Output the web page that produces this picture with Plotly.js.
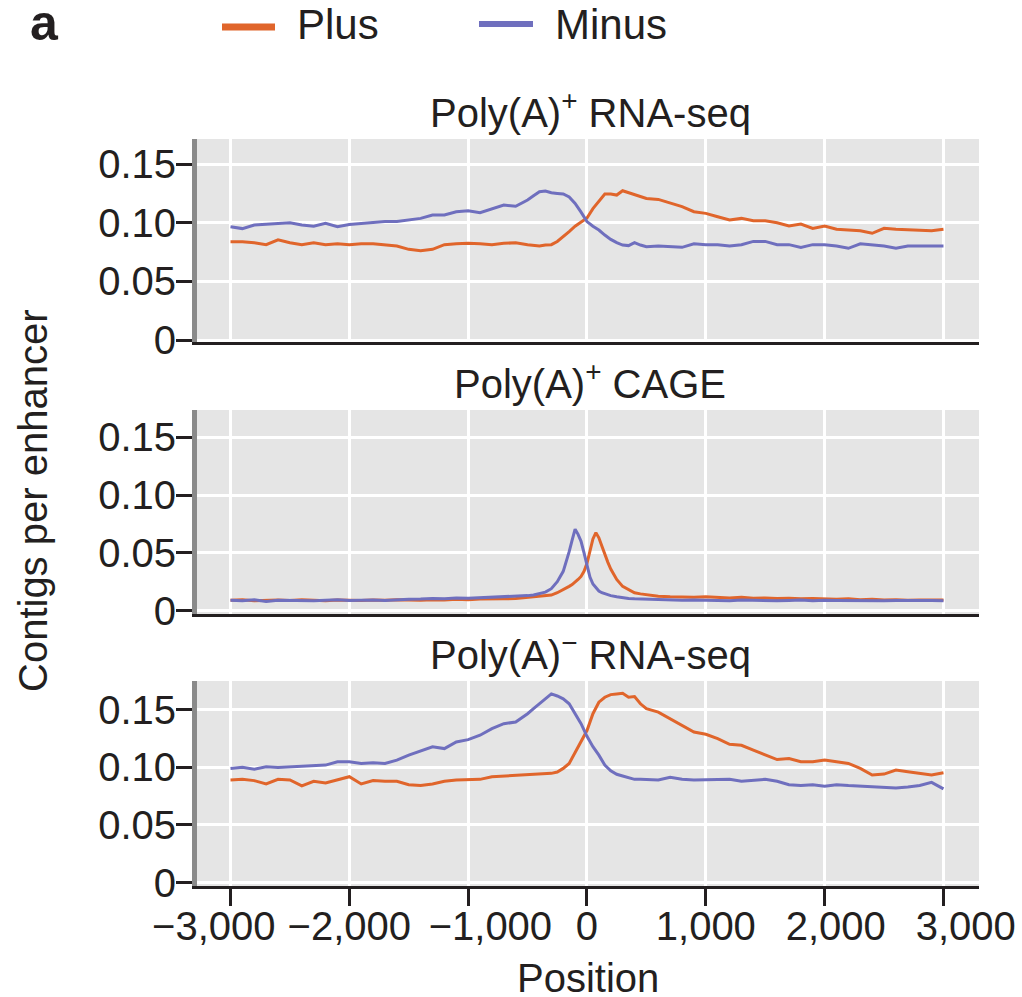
<!DOCTYPE html>
<html>
<head>
<meta charset="utf-8">
<script src="https://cdn.plot.ly/plotly-3.0.1.min.js"></script>
<style>html,body{margin:0;padding:0;background:#fff;}#chart{width:1022px;height:997px;}</style>
</head>
<body>
<div id="chart"></div>
<script>
// ---------- data ----------
const seriesNames = ['Plus', 'Minus'];
const panelTitles = ['Poly(A)<sup>+</sup> RNA-seq', 'Poly(A)<sup>+</sup> CAGE', 'Poly(A)<sup>\u2212</sup> RNA-seq'];
const xTickVals = [-3000, -2000, -1000, 0, 1000, 2000, 3000];
const xTickText = ['\u22123,000', '\u22122,000', '\u22121,000', '0', '1,000', '2,000', '3,000'];
const yTickVals = [0, 0.05, 0.10, 0.15];
const yTickText = ['0', '0.05', '0.10', '0.15'];

// positions for RNA-seq panels
const posRNA = [-3000,-2900,-2800,-2700,-2600,-2500,-2400,-2300,-2200,-2100,-2000,-1900,-1800,-1700,-1600,-1500,-1400,-1300,-1200,-1100,-1000,-900,-800,-700,-600,
  -500,-450,-400,-350,-300,-250,-200,-150,-100,-50,0,50,100,150,200,250,300,350,400,450,500,
  600,700,800,900,1000,1100,1200,1300,1400,1500,1600,1700,1800,1900,2000,2100,2200,2300,2400,2500,2600,2700,2800,2900,3000];

// Poly(A)+ RNA-seq
const polyAplusRNA_plus = [0.0838,0.0838,0.083,0.0813,0.0855,0.083,0.0813,0.083,0.0813,0.082,0.0813,0.082,0.082,0.0813,0.0801,0.0773,0.0761,0.0773,0.0813,0.082,0.0824,0.082,0.0813,0.0824,0.083,
  0.0813,0.081,0.0801,0.081,0.0813,0.084,0.088,0.0925,0.097,0.1005,0.104,0.112,0.118,0.1245,0.1245,0.1236,0.1273,0.1256,0.1236,0.122,0.1207,
  0.1199,0.1165,0.1137,0.1094,0.108,0.1051,0.1023,0.1037,0.1017,0.1017,0.1,0.0972,0.0989,0.0952,0.0972,0.0944,0.0938,0.0932,0.091,0.0952,0.0944,0.0938,0.0938,0.0932,0.0944];
const polyAplusRNA_minus = [0.0966,0.095,0.098,0.0985,0.0995,0.1,0.098,0.097,0.0995,0.0966,0.0985,0.0995,0.1004,0.101,0.101,0.1023,0.1037,0.1066,0.1066,0.1094,0.1102,0.1085,0.112,0.1151,0.114,
  0.1194,0.123,0.1265,0.127,0.1256,0.125,0.1245,0.122,0.1165,0.109,0.101,0.097,0.0938,0.0895,0.0858,0.083,0.081,0.0805,0.083,0.081,0.0796,
  0.0801,0.0796,0.079,0.082,0.0813,0.0813,0.0801,0.0813,0.0841,0.0841,0.0813,0.0813,0.079,0.0813,0.0813,0.0801,0.0782,0.082,0.0813,0.0801,0.0782,0.0801,0.0801,0.0801,0.0801];

// Poly(A)- RNA-seq
const polyAminusRNA_plus = [0.0891,0.0896,0.0885,0.0856,0.0896,0.0891,0.0839,0.0879,0.0865,0.0891,0.0919,0.0856,0.0885,0.0879,0.0879,0.085,0.0842,0.0856,0.0879,0.0891,0.0891,0.0896,0.0919,0.0925,0.0934,
  0.0934,0.094,0.0942,0.0945,0.0948,0.096,0.0991,0.1034,0.1134,0.123,0.132,0.1466,0.1566,0.1609,0.1632,0.1638,0.1644,0.1609,0.1615,0.1552,0.1509,
  0.148,0.1422,0.1365,0.1307,0.1287,0.1249,0.12,0.1192,0.1149,0.1106,0.1068,0.1077,0.1049,0.1049,0.1063,0.1049,0.1034,0.0991,0.0934,0.0942,0.0977,0.0963,0.0948,0.0934,0.0954];
const polyAminusRNA_minus = [0.0991,0.1,0.0983,0.1006,0.1,0.1006,0.1012,0.1012,0.102,0.1049,0.1049,0.1034,0.104,0.1034,0.1063,0.1106,0.1143,0.1178,0.1163,0.1221,0.1241,0.1279,0.1336,0.1379,0.1394,
  0.1466,0.151,0.1552,0.16,0.1638,0.162,0.1595,0.1552,0.1466,0.138,0.127,0.118,0.1106,0.102,0.0971,0.094,0.0925,0.091,0.0896,0.0896,0.0896,
  0.0891,0.0914,0.0896,0.0891,0.0891,0.0896,0.0896,0.0879,0.0885,0.0896,0.0879,0.085,0.0842,0.085,0.0836,0.085,0.0842,0.0836,0.083,0.083,0.0822,0.083,0.0842,0.087,0.0813];

// positions for CAGE panel
const posCAGE = [-3000,-2900,-2800,-2700,-2600,-2500,-2400,-2300,-2200,-2100,-2000,-1900,-1800,-1700,-1600,-1500,-1400,-1300,-1200,-1100,-1000,-900,-800,-700,
  -600,-550,-500,-450,-400,-350,-300,-250,
  -200,-175,-150,-125,-100,-75,-50,-25,0,25,50,75,100,125,150,175,200,
  250,300,350,400,450,500,550,600,
  700,800,900,1000,1100,1200,1300,1400,1500,1600,1700,1800,1900,2000,2100,2200,2300,2400,2500,2600,2700,2800,2900,3000];
const polyAplusCAGE_plus = [0.009,0.0095,0.0085,0.009,0.0092,0.0088,0.0095,0.009,0.0085,0.0092,0.009,0.0088,0.0093,0.009,0.0095,0.0092,0.009,0.0095,0.0092,0.0098,0.0095,0.01,0.0098,0.0102,
  0.0105,0.011,0.011,0.0115,0.012,0.0125,0.0135,0.0155,
  0.018,0.0195,0.021,0.0225,0.0245,0.027,0.0296,0.034,0.041,0.052,0.062,0.0675,0.063,0.056,0.048,0.042,0.036,
  0.027,0.021,0.018,0.0155,0.0145,0.0138,0.013,0.0125,
  0.012,0.0118,0.0115,0.012,0.0112,0.011,0.0115,0.0108,0.011,0.0105,0.0108,0.0102,0.0105,0.01,0.0098,0.0102,0.0095,0.0098,0.0092,0.0095,0.009,0.0093,0.009,0.0092];
const polyAplusCAGE_minus = [0.009,0.0085,0.0095,0.008,0.009,0.0088,0.0092,0.0085,0.009,0.0095,0.0088,0.009,0.0093,0.0087,0.0095,0.0098,0.01,0.0105,0.0102,0.011,0.0108,0.0112,0.0115,0.0118,
  0.012,0.0125,0.013,0.0135,0.0145,0.016,0.019,0.025,
  0.034,0.042,0.051,0.061,0.0705,0.066,0.06,0.05,0.038,0.029,0.023,0.0195,0.017,0.0155,0.0145,0.0135,0.013,
  0.012,0.011,0.0105,0.0102,0.01,0.0098,0.0095,0.0093,
  0.0095,0.009,0.0092,0.0088,0.009,0.0085,0.0092,0.0088,0.009,0.0085,0.0088,0.0092,0.0085,0.009,0.0088,0.0086,0.009,0.0087,0.0085,0.0088,0.009,0.0086,0.0088,0.0085];

// ---------- style ----------
const ORANGE = '#E0652B';
const PURPLE = '#6F6FBE';
const INK = '#231F20';
const FONT = 'Liberation Sans, Arial, Helvetica, sans-serif';

// pixel helpers for paper-positioned decorations
const L = 197, R = 43, T = 139, B = 111, W = 1022, H = 997;
const pw = W - L - R, ph = H - T - B;
const px = v => (v - L) / pw;
const py = v => (H - B - v) / ph;

// label nudges (non-breaking spaces) so the crowded x labels spread as in the figure
const NB = '\u00a0';
const xTickLabels = xTickText.map((t, i) => {
  const pad = [[0, 3], [0, 0], [4, 0], [0, 0], [0, 0], [2, 0], [4, 0]][i];
  return NB.repeat(pad[0]) + t + NB.repeat(pad[1]);
});

function tr(x, y, color, xa, ya, name) {
  return {x: x, y: y, xaxis: xa, yaxis: ya, type: 'scatter', mode: 'lines', name: name,
    line: {color: color, width: 3}, showlegend: false, hoverinfo: 'skip'};
}

const data = [
  tr(posRNA, polyAplusRNA_plus, ORANGE, 'x3', 'y3', seriesNames[0]),
  tr(posRNA, polyAplusRNA_minus, PURPLE, 'x3', 'y3', seriesNames[1]),
  tr(posCAGE, polyAplusCAGE_plus, ORANGE, 'x2', 'y2', seriesNames[0]),
  tr(posCAGE, polyAplusCAGE_minus, PURPLE, 'x2', 'y2', seriesNames[1]),
  tr(posRNA, polyAminusRNA_plus, ORANGE, 'x', 'y', seriesNames[0]),
  tr(posRNA, polyAminusRNA_minus, PURPLE, 'x', 'y', seriesNames[1])
];

const xrange = [-3282, 3299];
function xax(anchor, labels) {
  return {
    anchor: anchor, domain: [0, 1], range: xrange, fixedrange: true,
    tickmode: 'array', tickvals: xTickVals, ticktext: xTickLabels, tickangle: 0,
    showticklabels: labels, ticks: labels ? 'outside' : '', ticklen: 17, tickwidth: 3, tickcolor: INK,
    ticklabelstandoff: -14,
    showline: true, linecolor: INK, linewidth: 3,
    showgrid: true, gridcolor: '#FFFFFF', gridwidth: 3, zeroline: false,
    tickfont: {family: FONT, size: 40, color: INK}
  };
}
function yax(anchor, domain, range) {
  return {
    anchor: anchor, domain: domain, range: range, fixedrange: true,
    tickmode: 'array', tickvals: yTickVals, ticktext: yTickText,
    ticks: 'outside', ticklen: 16, tickwidth: 3, tickcolor: INK,
    ticklabelstandoff: -8,
    showline: true, linecolor: '#8A8A8A', linewidth: 5,
    showgrid: true, gridcolor: '#FFFFFF', gridwidth: 3, zeroline: false,
    tickfont: {family: FONT, size: 40, color: INK}
  };
}

const titleY = [py(110), py(381), py(652)];
const annotations = panelTitles.map((t, i) => ({
  text: t, xref: 'paper', yref: 'paper', x: 0.503, y: titleY[i],
  xanchor: 'center', yanchor: 'middle', showarrow: false,
  font: {family: FONT, size: 40, color: INK}
}));
annotations.push({text: 'Position', xref: 'paper', yref: 'paper', x: px(588), y: py(978),
  xanchor: 'center', yanchor: 'middle', showarrow: false, font: {family: FONT, size: 40, color: INK}});
annotations.push({text: 'Contigs per enhancer', xref: 'paper', yref: 'paper', x: px(33), y: py(501),
  xanchor: 'center', yanchor: 'middle', textangle: -90, showarrow: false, font: {family: FONT, size: 40, color: INK}});
annotations.push({text: '<b>a</b>', xref: 'paper', yref: 'paper', x: px(28), y: py(23),
  xanchor: 'left', yanchor: 'middle', showarrow: false, font: {family: FONT, size: 50, color: INK}});
annotations.push({text: seriesNames[0], xref: 'paper', yref: 'paper', x: px(295), y: py(24),
  xanchor: 'left', yanchor: 'middle', showarrow: false, font: {family: FONT, size: 42, color: INK}});
annotations.push({text: seriesNames[1], xref: 'paper', yref: 'paper', x: px(553), y: py(24),
  xanchor: 'left', yanchor: 'middle', showarrow: false, font: {family: FONT, size: 42, color: INK}});

const shapes = [
  {type: 'line', xref: 'paper', yref: 'paper', x0: px(222), x1: px(275), y0: py(27), y1: py(27), line: {color: ORANGE, width: 7}},
  {type: 'line', xref: 'paper', yref: 'paper', x0: px(479), x1: px(533), y0: py(24), y1: py(24), line: {color: PURPLE, width: 6}}
];

const layout = {
  width: W, height: H,
  margin: {l: L, r: R, t: T, b: B, pad: 0},
  paper_bgcolor: '#FFFFFF', plot_bgcolor: '#E5E5E5',
  showlegend: false,
  font: {family: FONT, color: INK},
  xaxis: xax('y', true),
  xaxis2: xax('y2', false),
  xaxis3: xax('y3', false),
  yaxis: yax('x', [0, py(681)], [-0.003, 0.175]),
  yaxis2: yax('x2', [py(614), py(410)], [-0.0029, 0.1736]),
  yaxis3: yax('x3', [py(342), 1], [-0.0017, 0.1714]),
  annotations: annotations,
  shapes: shapes
};

Plotly.newPlot('chart', data, layout, {displayModeBar: false, staticPlot: true});
</script>
</body>
</html>
